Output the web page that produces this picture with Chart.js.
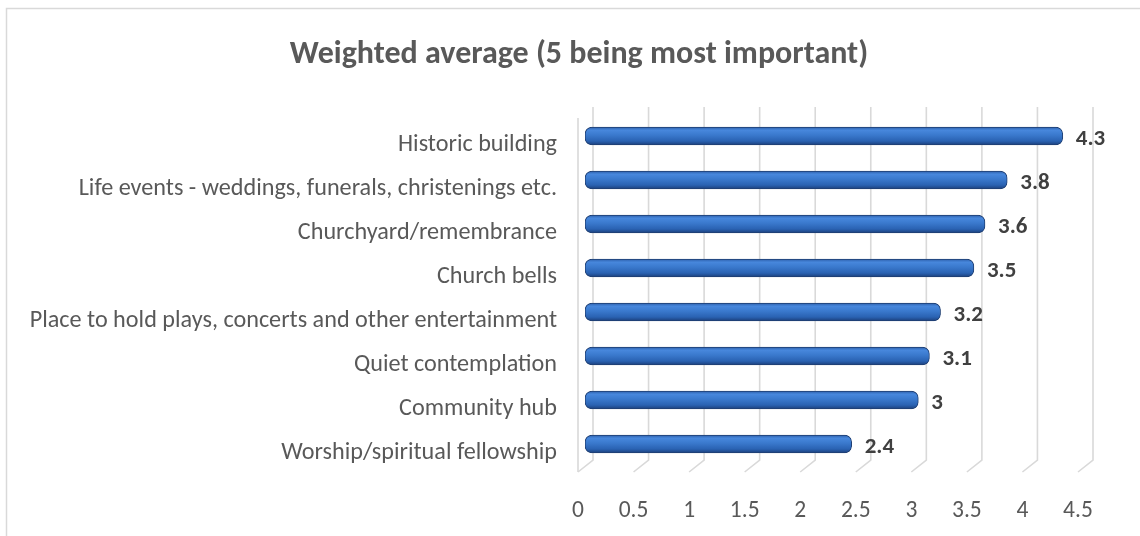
<!DOCTYPE html>
<html>
<head>
<meta charset="utf-8">
<script src="https://cdn.jsdelivr.net/npm/chart.js@4"></script>
<style>
html,body{margin:0;padding:0;background:#fff;}
#wrap{position:relative;width:1140px;height:536px;}
</style>
</head>
<body>
<div id="wrap"><canvas id="c" width="1140" height="536"></canvas></div>
<script>
const categories = [
  "Historic building",
  "Life events - weddings, funerals, christenings etc.",
  "Churchyard/remembrance",
  "Church bells",
  "Place to hold plays, concerts and other entertainment",
  "Quiet contemplation",
  "Community hub",
  "Worship/spiritual fellowship"
];
const values = [4.3, 3.8, 3.6, 3.5, 3.2, 3.1, 3, 2.4];
const xTicks = [0, 0.5, 1, 1.5, 2, 2.5, 3, 3.5, 4, 4.5];
const titleText = "Weighted average (5 being most important)";

const FONT = "Carlito, Lato, 'Liberation Sans', sans-serif";
const TXT = "#595959";

function barGradient(ctx) {
  const chart = ctx.chart;
  const ys = chart.scales && chart.scales.y;
  if (!ys || ys.top === undefined) return "#3a78cc";
  const yc = ys.getPixelForValue(ctx.dataIndex);
  if (!isFinite(yc)) return "#3a78cc";
  const g = chart.ctx.createLinearGradient(0, yc - 9, 0, yc + 9);
  g.addColorStop(0, "#2d5faa");
  g.addColorStop(0.18, "#4787dc");
  g.addColorStop(0.45, "#3a79cd");
  g.addColorStop(0.78, "#2a62b2");
  g.addColorStop(1, "#1b3f7a");
  return g;
}

const grid3d = {
  id: "grid3d",
  afterLayout(chart) {
    // centre the title over the plot region like the original
    if (chart.titleBlock) {
      chart.titleBlock.left = 73;
    }
  },
  beforeDraw(chart) {
    const c = chart.ctx;
    c.save();
    c.strokeStyle = "#d9d9d9";
    c.lineWidth = 1.5;
    c.beginPath();
    c.moveTo(6.5, 540);
    c.lineTo(6.5, 8.5);
    c.lineTo(1145, 8.5);
    c.stroke();
    c.restore();
  },
  beforeDatasetsDraw(chart) {
    const c = chart.ctx, xs = chart.scales.x, a = chart.chartArea;
    c.save();
    c.strokeStyle = "#d9d9d9";
    c.lineWidth = 1.6;
    const topY = a.top - 7, backBot = a.bottom - 6, frontBot = a.bottom + 6;
    xTicks.forEach(v => {
      const px = xs.getPixelForValue(v);
      c.beginPath();
      c.moveTo(px + 8, topY);
      c.lineTo(px + 8, backBot);
      c.lineTo(px - 7, frontBot);
      c.stroke();
    });
    const p0 = xs.getPixelForValue(0) - 7;
    c.beginPath();
    c.moveTo(p0, a.top + 4);
    c.lineTo(p0, frontBot);
    c.stroke();
    c.restore();
  },
  afterDatasetsDraw(chart) {
    const c = chart.ctx;
    const meta = chart.getDatasetMeta(0);
    c.save();
    c.font = "bold 23px " + FONT;
    c.fillStyle = "#404040";
    c.textAlign = "left";
    c.textBaseline = "middle";
    meta.data.forEach((bar, i) => {
      c.fillText(String(values[i]), bar.x + 13, bar.y + 3);
    });
    c.restore();
  }
};

new Chart(document.getElementById("c"), {
  type: "bar",
  data: {
    labels: categories,
    datasets: [{
      data: values,
      backgroundColor: barGradient,
      borderColor: "#1f3f73",
      borderWidth: 1,
      borderRadius: 7,
      borderSkipped: false,
      barThickness: 18
    }]
  },
  options: {
    indexAxis: "y",
    responsive: false,
    animation: false,
    layout: { padding: { left: 0, right: 55, top: 0, bottom: 0 } },
    plugins: {
      legend: { display: false },
      tooltip: { enabled: false },
      title: {
        display: true,
        text: titleText,
        color: TXT,
        font: { family: FONT, size: 32, weight: "bold" },
        padding: { top: 36, bottom: 39.6 }
      }
    },
    scales: {
      x: {
        type: "linear",
        min: 0,
        max: 4.5,
        afterBuildTicks(s) { s.ticks = xTicks.map(v => ({ value: v })); },
        grid: { display: false, drawTicks: false },
        border: { display: false },
        ticks: {
          color: TXT,
          font: { family: FONT, size: 23.5 },
          padding: 31,
          labelOffset: -7,
          maxRotation: 0,
          autoSkip: false,
          callback: (v) => String(v)
        },
        afterFit(s) { s.height = 70; }
      },
      y: {
        grid: { display: false, drawTicks: false },
        border: { display: false },
        ticks: {
          color: TXT,
          font: { family: FONT, size: 24.2 },
          padding: 28,
          labelOffset: 9,
          autoSkip: false
        },
        afterFit(s) { s.width = 585; }
      }
    }
  },
  plugins: [grid3d]
});
</script>
</body>
</html>
